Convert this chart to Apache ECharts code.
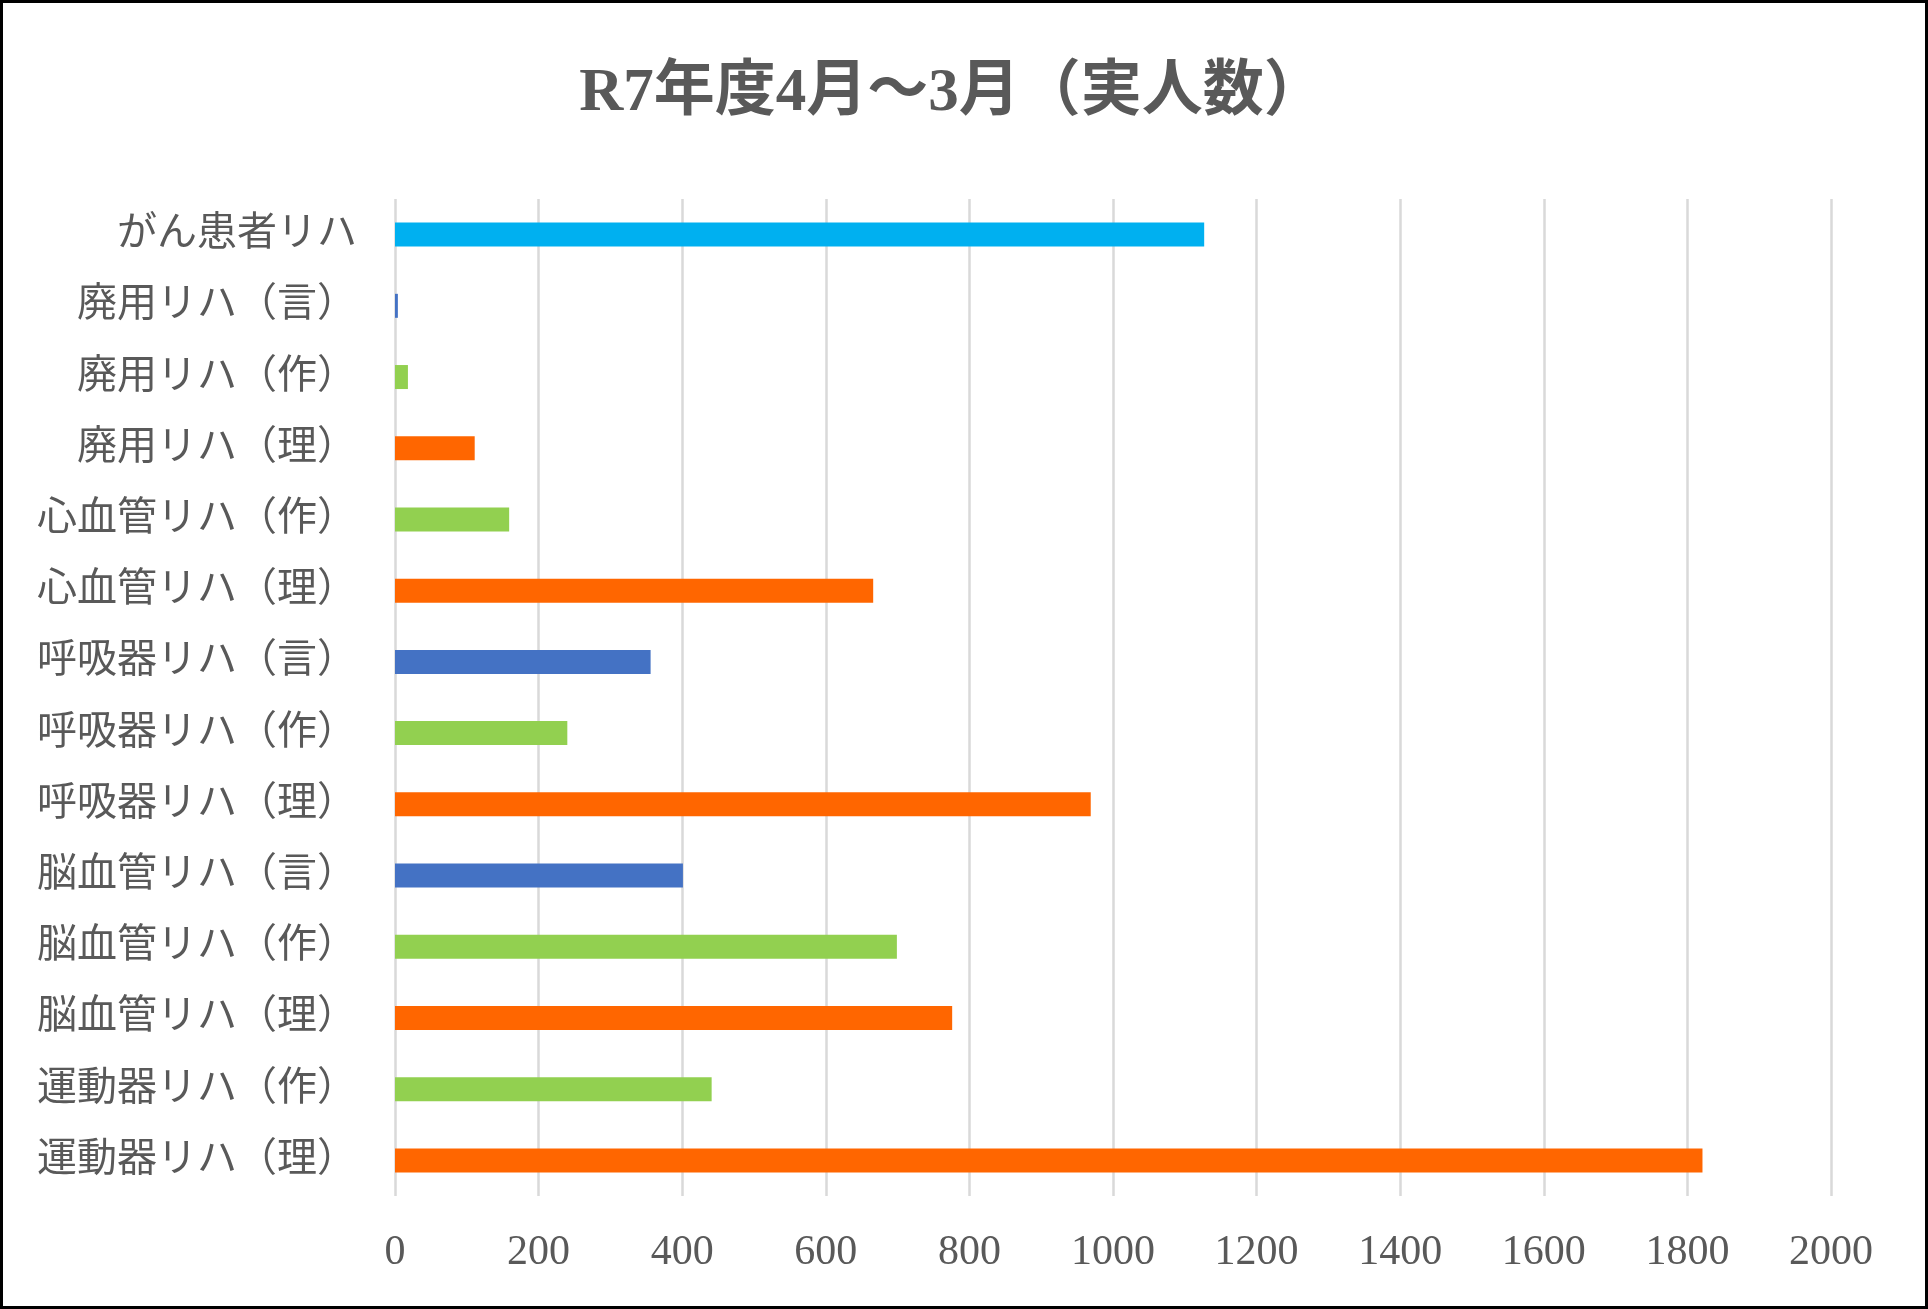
<!DOCTYPE html>
<html>
<head>
<meta charset="utf-8">
<script src="https://cdn.jsdelivr.net/npm/echarts@6/dist/echarts.min.js"></script>
<style>
  html, body { margin: 0; padding: 0; background: #fff; }
  #wrap { width: 1928px; height: 1309px; box-sizing: border-box; border: 3px solid #000; background: #fff; }
  #chart { width: 100%; height: 100%; }
</style>
</head>
<body>
<div id="wrap"><div id="chart"></div></div>
<script>
// Categories listed from bottom to top (as on the axis)
const categories = [
  '運動器リハ（理）',
  '運動器リハ（作）',
  '脳血管リハ（理）',
  '脳血管リハ（作）',
  '脳血管リハ（言）',
  '呼吸器リハ（理）',
  '呼吸器リハ（作）',
  '呼吸器リハ（言）',
  '心血管リハ（理）',
  '心血管リハ（作）',
  '廃用リハ（理）',
  '廃用リハ（作）',
  '廃用リハ（言）',
  'がん患者リハ'
];
const values = [1821, 441, 776, 699, 401, 969, 240, 356, 666, 159, 111, 18, 4, 1127];
const titleText = 'R7年度4月～3月（実人数）';

function colorFor(name) {
  if (name.indexOf('（理）') >= 0) return '#FF6600';
  if (name.indexOf('（作）') >= 0) return '#92D050';
  if (name.indexOf('（言）') >= 0) return '#4472C4';
  return '#00B0F0';
}

const fontFam = '"Liberation Serif", "Noto Sans CJK JP", serif';
const chart = echarts.init(document.getElementById('chart'));
chart.setOption({
  animation: false,
  backgroundColor: '#fff',
  title: {
    text: titleText,
    left: 944,
    textAlign: 'center',
    top: 56,
    textStyle: { fontFamily: fontFam, fontSize: 61, fontWeight: 'bold', color: '#595959' }
  },
  grid: { left: 392, right: 94, top: 196, bottom: 110, containLabel: false },
  xAxis: {
    type: 'value',
    min: 0, max: 2000, interval: 200,
    axisLine: { show: false },
    axisTick: { show: false },
    splitLine: { show: true, lineStyle: { color: '#D9D9D9', width: 2.5 } },
    axisLabel: { fontFamily: fontFam, fontSize: 42, color: '#595959', margin: 36, formatter: v => String(v) }
  },
  yAxis: {
    type: 'category',
    data: categories,
    axisLine: { show: false },
    axisTick: { show: false },
    axisLabel: { fontFamily: fontFam, fontSize: 40, color: '#595959', margin: 38 }
  },
  series: [{
    type: 'bar',
    barWidth: 24,
    data: values.map((v, i) => ({ value: v, itemStyle: { color: colorFor(categories[i]) } }))
  }]
});
</script>
</body>
</html>
